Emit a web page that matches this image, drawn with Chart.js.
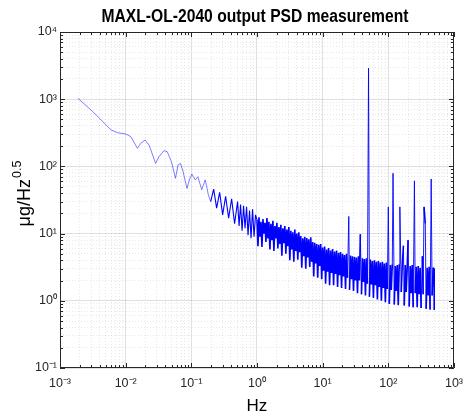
<!DOCTYPE html>
<html>
<head>
<meta charset="utf-8">
<script src="https://cdn.jsdelivr.net/npm/chart.js@4"></script>
<style>
  html, body { margin: 0; padding: 0; background: #fff; }
  #wrap { width: 471px; height: 419px; }
</style>
</head>
<body>
<div id="wrap"><canvas id="psd"></canvas></div>
<script>
// smooth low-frequency part of the spectrum (Hz, ug/rtHz)
var lowFreqHz = [0.00188, 0.00317, 0.00449, 0.0060, 0.00755, 0.0101, 0.0120, 0.0151, 0.0170, 0.0198,
  0.0227, 0.0286, 0.0321, 0.0382, 0.0429, 0.0499, 0.0574, 0.0628, 0.0682, 0.0739,
  0.0859, 0.0933, 0.102, 0.115, 0.126, 0.144, 0.163, 0.182];
var lowPsd = [1030, 652, 463, 348, 317, 303, 277, 186, 221, 247,
  208, 111, 139, 171, 166, 117, 66.5, 105, 111, 88,
  47, 63, 77, 63, 70, 45, 63, 37.5];

// 0.2 - 1 Hz, the noise starts
var midFreqHz = [0.197, 0.219, 0.243, 0.270, 0.300, 0.333, 0.370, 0.411, 0.456, 0.507, 0.534,
  0.562, 0.593, 0.625, 0.658, 0.694, 0.731, 0.770, 0.812, 0.856, 0.902, 0.950];
var midPsd = [30, 46, 24, 41, 19, 36, 17, 33, 14, 30, 13, 27, 11, 26, 12, 25, 9.5, 22, 8.5, 23, 9, 19];

// 1 - 10 Hz
var dec1FreqHz = [1.00, 1.035, 1.072, 1.110, 1.150, 1.190, 1.233, 1.276, 1.322, 1.369, 1.417,
  1.468, 1.520, 1.574, 1.630, 1.688, 1.748, 1.810, 1.874, 1.941, 2.010, 2.081,
  2.155, 2.232, 2.311, 2.393, 2.478, 2.566, 2.657, 2.752, 2.850, 2.951, 3.056,
  3.164, 3.277, 3.393, 3.514, 3.639, 3.768, 3.902, 4.041, 4.184, 4.333, 4.487,
  4.646, 4.811, 4.982, 5.159, 5.343, 5.532, 5.729, 5.932, 6.143, 6.362, 6.588,
  6.822, 7.064, 7.315, 7.575, 7.844, 8.123, 8.412, 8.711, 9.020, 9.341, 9.673];
var dec1Psd = [16, 6.5, 17.5, 9, 15, 6.3, 16.5, 10, 14.5, 7.5, 17,
  8.5, 15, 5.8, 14, 8, 15.5, 5.5, 13, 8.5, 14.5, 6,
  12.5, 7, 13.5, 4.7, 12, 7.2, 13, 5, 11.5, 6.5, 12.5,
  4, 11, 5.8, 10.5, 3.8, 11.5, 5.5, 10, 4.1, 10.5, 5.3,
  9.2, 3.1, 8.5, 4.6, 9, 3, 8.6, 4.4, 8.2, 3.2, 8.8,
  3.8, 7.5, 2.3, 7.3, 3.6, 7, 2.2, 6.8, 3.3, 7, 2.1];

// 10 - 100 Hz, lines at 25, 37.5 and 50 Hz
var dec2FreqHz = [10.0, 10.35, 10.72, 11.10, 11.50, 11.90, 12.33, 12.76, 13.22, 13.69, 14.17,
  14.68, 15.20, 15.74, 16.30, 16.88, 17.48, 18.10, 18.74, 19.41, 20.10, 20.81,
  21.55, 22.32, 23.11, 23.93, 25.0, 25.66, 26.57, 27.52, 28.50, 29.51, 30.56,
  31.64, 32.77, 33.93, 35.14, 36.39, 37.5, 39.02, 40.41, 41.84, 43.33, 44.87,
  46.46, 48.11, 50.0, 51.59, 53.43, 55.32, 57.29, 59.32, 61.43, 63.62, 65.88,
  68.22, 70.64, 73.15, 75.75, 78.44, 81.23, 84.12, 87.11, 90.20, 93.41, 96.73];
var dec2Psd = [6.2, 2.8, 6.4, 1.8, 5.8, 2.7, 6.1, 1.7, 5.6, 2.6, 5.9,
  1.7, 5.4, 2.5, 5.6, 1.6, 5.2, 2.4, 5.3, 1.55, 5.0, 2.3,
  4.8, 1.5, 5.0, 2.2, 18, 1.45, 4.7, 2.1, 4.6, 1.4, 4.5,
  2.0, 4.4, 1.3, 4.6, 2.0, 9.8, 1.25, 4.3, 1.9, 4.2, 1.2,
  4.3, 1.8, 2900, 1.15, 4.1, 1.75, 3.9, 1.1, 4.0, 1.7, 3.8,
  1.05, 3.9, 1.6, 3.7, 1.0, 3.8, 1.55, 3.6, 0.95, 3.7, 1.5];

// 100 - 500 Hz, harmonics
var dec3FreqHz = [100, 103.5, 107.2, 111.0, 115.0, 118, 123.3, 127.6, 132.2, 136.9, 141.7,
  146.8, 150, 157.4, 163.0, 170, 174.8, 181.0, 187.4, 194.1, 200, 208.1,
  215.5, 223.2, 231.1, 239.3, 250, 256.6, 265.7, 275.2, 285.0, 295.1, 305.6,
  316.4, 330, 339.3, 350, 366, 376.8, 390.2, 404.1, 418.4, 433.3, 450,
  464.6, 481.1, 498.2, 500];
var dec3Psd = [25, 0.9, 3.4, 1.45, 3.5, 79, 0.88, 3.3, 1.4, 3.4, 0.86,
  3.5, 25, 1.35, 3.3, 6.6, 0.85, 3.4, 1.35, 3.2, 8, 0.82,
  3.3, 1.3, 3.4, 0.8, 61, 1.3, 3.2, 0.8, 3.3, 1.25, 3.1,
  0.78, 4.6, 1.25, 25, 14, 0.76, 3.1, 1.2, 3.2, 0.74, 65,
  1.2, 3.1, 3.0, 0.73];

// axis decades and their labels
var xExps = [-3, -2, -1, 0, 1, 2, 3];
var xTickLabels = ['10\u207B\u00B3', '10\u207B\u00B2', '10\u207B\u00B9', '10\u2070', '10\u00B9', '10\u00B2', '10\u00B3'];
var yExps = [-1, 0, 1, 2, 3, 4];
var yTickLabels = ['10\u207B\u00B9', '10\u2070', '10\u00B9', '10\u00B2', '10\u00B3', '10\u2074'];

var titleText = 'MAXL-OL-2040 output PSD measurement';
var FONT = "'Liberation Sans', Arial, Helvetica, sans-serif";

var freqHz = lowFreqHz.concat(midFreqHz, dec1FreqHz, dec2FreqHz, dec3FreqHz);
var psd = lowPsd.concat(midPsd, dec1Psd, dec2Psd, dec3Psd);
var points = freqHz.map(function (f, i) { return { x: f, y: psd[i] }; });

function logTicks(exps) {
  var t = [];
  exps.forEach(function (e, i) {
    var last = i === exps.length - 1;
    for (var m = 1; m <= (last ? 1 : 9); m++) {
      t.push({ value: m * Math.pow(10, e), major: m === 1 });
    }
  });
  return t;
}

function decadeLabel(exps, labels, v) {
  var e = Math.round(Math.log10(v));
  if (Math.abs(Math.log10(v) - e) > 1e-6) return '';
  var i = exps.indexOf(e);
  return i < 0 ? '' : labels[i];
}

function gridColor(c) {
  if (!c.tick) return 'rgba(0,0,0,0)';
  return c.tick.major ? 'rgba(0,0,0,0.12)' : 'rgba(0,0,0,0.09)';
}
function gridDash(c) {
  return c.tick && !c.tick.major ? [1, 2] : [];
}

// thin line for the smooth part and the spectral lines, heavier in the dense noise
function segWidth(c) {
  var f = c.p0.parsed.x, y0 = c.p0.parsed.y, y1 = c.p1.parsed.y;
  if (f < 0.19) return 0.8;
  if (f < 1) return 1.1;
  if (Math.max(y0, y1) / Math.min(y0, y1) > 5) return 0.9;
  return 1.6;
}

// box round the plot with inward ticks (matlab look), title and y label
var boxPlugin = {
  id: 'box',
  afterDraw: function (chart) {
    var ctx = chart.ctx, a = chart.chartArea;
    var xs = chart.scales.x, ys = chart.scales.y;
    ctx.save();
    ctx.strokeStyle = '#262626';
    ctx.lineWidth = 1;
    ctx.beginPath();
    ctx.rect(Math.round(a.left) + 0.5, Math.round(a.top) + 0.5, Math.round(a.width) - 1, Math.round(a.height) - 1);
    ctx.stroke();
    ctx.beginPath();
    xs.ticks.forEach(function (t) {
      var px = Math.round(xs.getPixelForValue(t.value)) + 0.5;
      var len = t.major ? 5 : 3;
      ctx.moveTo(px, a.bottom); ctx.lineTo(px, a.bottom - len);
      ctx.moveTo(px, a.top); ctx.lineTo(px, a.top + len);
    });
    ys.ticks.forEach(function (t) {
      var py = Math.round(ys.getPixelForValue(t.value)) + 0.5;
      var len = t.major ? 5 : 3;
      ctx.moveTo(a.left, py); ctx.lineTo(a.left + len, py);
      ctx.moveTo(a.right, py); ctx.lineTo(a.right - len, py);
    });
    ctx.stroke();

    // title, a bit narrow like the original figure
    ctx.fillStyle = '#000';
    ctx.font = 'bold 18px ' + FONT;
    ctx.textAlign = 'center';
    ctx.textBaseline = 'alphabetic';
    var tw = ctx.measureText(titleText).width;
    var sx = Math.min(1, 307 / tw);
    ctx.save();
    ctx.translate((a.left + a.right) / 2 - 2, 22);
    ctx.scale(sx, 1);
    ctx.fillText(titleText, 0, 0);
    ctx.restore();

    // y axis label: ug/Hz^0.5
    var big = '18px ' + FONT, small = '12.5px ' + FONT;
    ctx.font = big;
    var w1 = ctx.measureText('\u03BCg/Hz').width;
    ctx.font = small;
    var w2 = ctx.measureText('0.5').width;
    ctx.translate(30, 194);
    ctx.rotate(-Math.PI / 2);
    ctx.textAlign = 'left';
    var x0 = -(w1 + w2) / 2;
    ctx.font = big;
    ctx.fillText('\u03BCg/Hz', x0, 0);
    ctx.font = small;
    ctx.fillText('0.5', x0 + w1 + 1, -9);
    ctx.restore();
  }
};

new Chart(document.getElementById('psd'), {
  type: 'line',
  data: {
    datasets: [{
      data: points,
      borderColor: '#0000ff',
      borderWidth: 1.2,
      borderJoinStyle: 'bevel',
      pointRadius: 0,
      tension: 0,
      segment: {
        borderWidth: segWidth,
        borderColor: function (c) { return c.p0.parsed.x < 0.19 ? 'rgba(40,40,255,0.75)' : '#0000ff'; }
      }
    }]
  },
  options: {
    responsive: true,
    maintainAspectRatio: false,
    animation: false,
    events: [],
    layout: { padding: { left: 0, right: 13, top: 32, bottom: 0 } },
    plugins: {
      legend: { display: false },
      tooltip: { enabled: false },
      title: { display: false }
    },
    scales: {
      x: {
        type: 'logarithmic',
        min: 0.001,
        max: 1000,
        afterBuildTicks: function (s) { s.ticks = logTicks(xExps); },
        afterFit: function (s) { s.height = 51; },
        ticks: {
          autoSkip: false,
          maxRotation: 0,
          padding: 8,
          color: '#262626',
          font: { family: FONT, size: 12.5 },
          callback: function (v) { return decadeLabel(xExps, xTickLabels, v); }
        },
        grid: { color: gridColor, drawTicks: false },
        border: { display: false, dash: gridDash },
        title: {
          display: true,
          text: 'Hz',
          color: '#000',
          font: { family: FONT, size: 17 },
          padding: { top: 0, bottom: 2 }
        }
      },
      y: {
        type: 'logarithmic',
        min: 0.1,
        max: 10000,
        afterBuildTicks: function (s) { s.ticks = logTicks(yExps); },
        afterFit: function (s) { s.width = 60; },
        ticks: {
          autoSkip: false,
          padding: 3,
          color: '#262626',
          font: { family: FONT, size: 12.5 },
          callback: function (v) { return decadeLabel(yExps, yTickLabels, v); }
        },
        grid: { color: gridColor, drawTicks: false },
        border: { display: false, dash: gridDash }
      }
    }
  },
  plugins: [boxPlugin]
});
</script>
</body>
</html>
